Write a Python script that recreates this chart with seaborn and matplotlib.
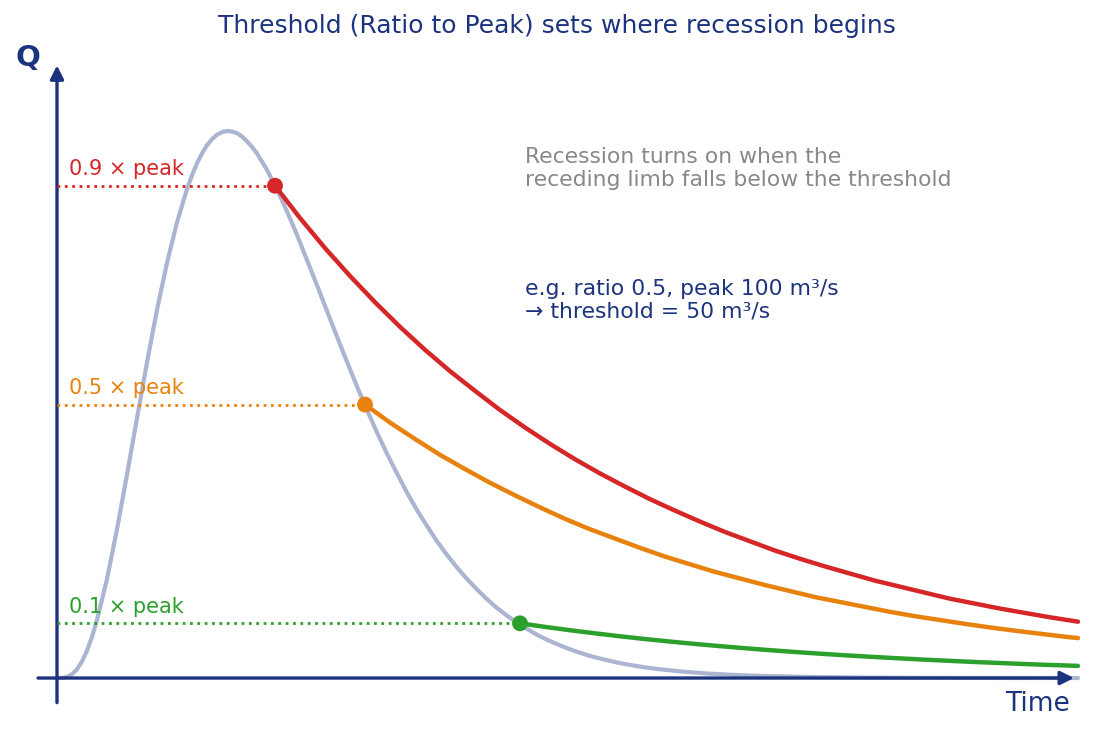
import matplotlib
matplotlib.use("Agg")
import matplotlib.pyplot as plt
import seaborn as sns

# ---------------- data ----------------
hydro_t = [0.0, 0.05, 0.1, 0.15, 0.2, 0.25, 0.3, 0.35, 0.4, 0.5, 0.6, 0.7, 0.8,
           0.9, 1.0, 1.1, 1.2, 1.3, 1.35, 1.4, 1.45, 1.5, 1.55, 1.6, 1.65, 1.7,
           1.75, 1.8, 1.85, 1.9, 1.95, 2.0, 2.05, 2.1, 2.2, 2.3, 2.4, 2.5, 2.6,
           2.7, 2.8, 2.9, 3.0, 3.1, 3.2, 3.3, 3.4, 3.5, 3.6, 3.7, 3.8, 3.9, 4.0,
           4.1, 4.2, 4.3, 4.4, 4.5, 4.6, 4.7, 4.8, 4.9, 5.0, 5.1, 5.2, 5.3, 5.4,
           5.5, 5.6, 5.7, 5.8, 5.9, 6.0, 6.25, 6.5, 6.75, 7.0, 7.5, 8.0, 8.5,
           9.0, 9.5, 10.21]
hydro_q = [0.0, 0.0002, 0.002, 0.0069, 0.016, 0.0303, 0.050, 0.0753, 0.106,
           0.181, 0.272, 0.372, 0.475, 0.577, 0.673, 0.759, 0.833, 0.894,
           0.919, 0.941, 0.959, 0.974, 0.985, 0.993, 0.998, 1.0, 0.999, 0.996,
           0.990, 0.981, 0.971, 0.959, 0.944, 0.929, 0.893, 0.853, 0.810,
           0.764, 0.718, 0.671, 0.624, 0.578, 0.533, 0.490, 0.449, 0.410,
           0.374, 0.339, 0.307, 0.278, 0.250, 0.225, 0.202, 0.181, 0.162,
           0.144, 0.128, 0.114, 0.101, 0.090, 0.079, 0.070, 0.062, 0.0545,
           0.048, 0.042, 0.037, 0.0325, 0.0284, 0.0249, 0.0218, 0.019, 0.0166,
           0.0118, 0.0083, 0.0058, 0.0041, 0.002, 0.0009, 0.0004, 0.0002,
           0.0001, 0.0]

red_t = [2.18, 2.43, 2.68, 2.93, 3.18, 3.43, 3.68, 3.93, 4.18, 4.43, 4.68, 4.93,
         5.18, 5.43, 5.68, 5.93, 6.18, 6.43, 6.68, 6.93, 7.18, 7.43, 7.68, 7.93,
         8.18, 8.43, 8.68, 8.93, 9.18, 9.43, 9.68, 9.93, 10.21]
red_q = [0.900, 0.841, 0.786, 0.735, 0.687, 0.642, 0.600, 0.561, 0.525, 0.490,
         0.458, 0.428, 0.400, 0.374, 0.350, 0.327, 0.306, 0.286, 0.267, 0.250,
         0.233, 0.218, 0.204, 0.191, 0.178, 0.167, 0.156, 0.145, 0.136, 0.127,
         0.119, 0.111, 0.103]
orange_t = [3.08, 3.33, 3.58, 3.83, 4.08, 4.33, 4.58, 4.83, 5.08, 5.33, 5.58,
            5.83, 6.08, 6.33, 6.58, 6.83, 7.08, 7.33, 7.58, 7.83, 8.08, 8.33,
            8.58, 8.83, 9.08, 9.33, 9.58, 9.83, 10.08, 10.21]
orange_q = [0.500, 0.467, 0.437, 0.408, 0.382, 0.357, 0.334, 0.312, 0.291,
            0.272, 0.255, 0.238, 0.222, 0.208, 0.194, 0.182, 0.170, 0.159,
            0.148, 0.139, 0.130, 0.121, 0.113, 0.106, 0.099, 0.0925, 0.0865,
            0.081, 0.0755, 0.073]
green_t = [4.63, 4.88, 5.13, 5.38, 5.63, 5.88, 6.13, 6.38, 6.63, 6.88, 7.13,
           7.38, 7.63, 7.88, 8.13, 8.38, 8.63, 8.88, 9.13, 9.38, 9.63, 9.88,
           10.21]
green_q = [0.100, 0.0935, 0.0874, 0.0817, 0.0763, 0.0713, 0.0667, 0.0623,
           0.0583, 0.0545, 0.0509, 0.0476, 0.0445, 0.0416, 0.0389, 0.0364,
           0.034, 0.0318, 0.0297, 0.0278, 0.0259, 0.0242, 0.0222]

ratios = [0.9, 0.5, 0.1]
ratio_labels = ["0.9 × peak", "0.5 × peak", "0.1 × peak"]
title = "Threshold (Ratio to Peak) sets where recession begins"
note_gray = "Recession turns on when the\nreceding limb falls below the threshold"
note_navy = "e.g. ratio 0.5, peak 100 m³/s\n→ threshold = 50 m³/s"

# ---------------- style ----------------
NAVY = "#1c337e"
HYDRO = "#abb5d1"
RED = "#d62728"
ORANGE = "#e8820e"
GREEN = "#2ca02c"
GRAY = "#888888"

sns.set_theme(style="white")
plt.rcParams["font.family"] = ["DejaVu Sans"]

fig = plt.figure(figsize=(10.93, 7.33), dpi=100)
ax = fig.add_axes([0, 0, 1, 1])
ax.set_xlim(-0.57, 10.36)
ax.set_ylim(-0.1005, 1.2395)
ax.axis("off")

# axes arrows
ax.annotate("", xy=(10.17, 0), xytext=(-0.19, 0),
            arrowprops=dict(arrowstyle="-|>", lw=2.4, color=NAVY,
                            mutation_scale=20, shrinkA=0, shrinkB=0), zorder=2)
ax.annotate("", xy=(0, 1.12), xytext=(0, -0.045),
            arrowprops=dict(arrowstyle="-|>", lw=2.4, color=NAVY,
                            mutation_scale=20, shrinkA=0, shrinkB=0), zorder=2)

# hydrograph
sns.lineplot(x=hydro_t, y=hydro_q, ax=ax, color=HYDRO, lw=3, zorder=1,
             sort=False, estimator=None)

rec = [(red_t, red_q, RED), (orange_t, orange_q, ORANGE), (green_t, green_q, GREEN)]
for (tt, qq, col), r, lab in zip(rec, ratios, ratio_labels):
    ax.plot([0.0, tt[0]], [r, r], ls=":", lw=2, color=col, zorder=3)
    sns.lineplot(x=tt, y=qq, ax=ax, color=col, lw=3.2, zorder=4,
                 sort=False, estimator=None)
    sns.scatterplot(x=[tt[0]], y=[qq[0]], ax=ax, color=col, s=130,
                    edgecolor="none", zorder=5)
    ax.text(0.12, r + 0.019, lab, color=col, fontsize=15, va="baseline", ha="left")

ax.text(4.68, 0.931, note_gray, color=GRAY, fontsize=15.75, va="center",
        ha="left", linespacing=1.18)
ax.text(4.68, 0.691, note_navy, color=NAVY, fontsize=15.75, va="center",
        ha="left", linespacing=1.18)

fig.text(557 / 1093, 1 - 26 / 733, title, color=NAVY, fontsize=18,
         ha="center", va="center")
fig.text(28 / 1093, 1 - 58 / 733, "Q", color=NAVY, fontsize=21,
         fontweight="bold", ha="center", va="center")
fig.text(1070 / 1093, 1 - 704 / 733, "Time", color=NAVY, fontsize=19,
         ha="right", va="center")

fig.savefig("out.png", dpi=100)
